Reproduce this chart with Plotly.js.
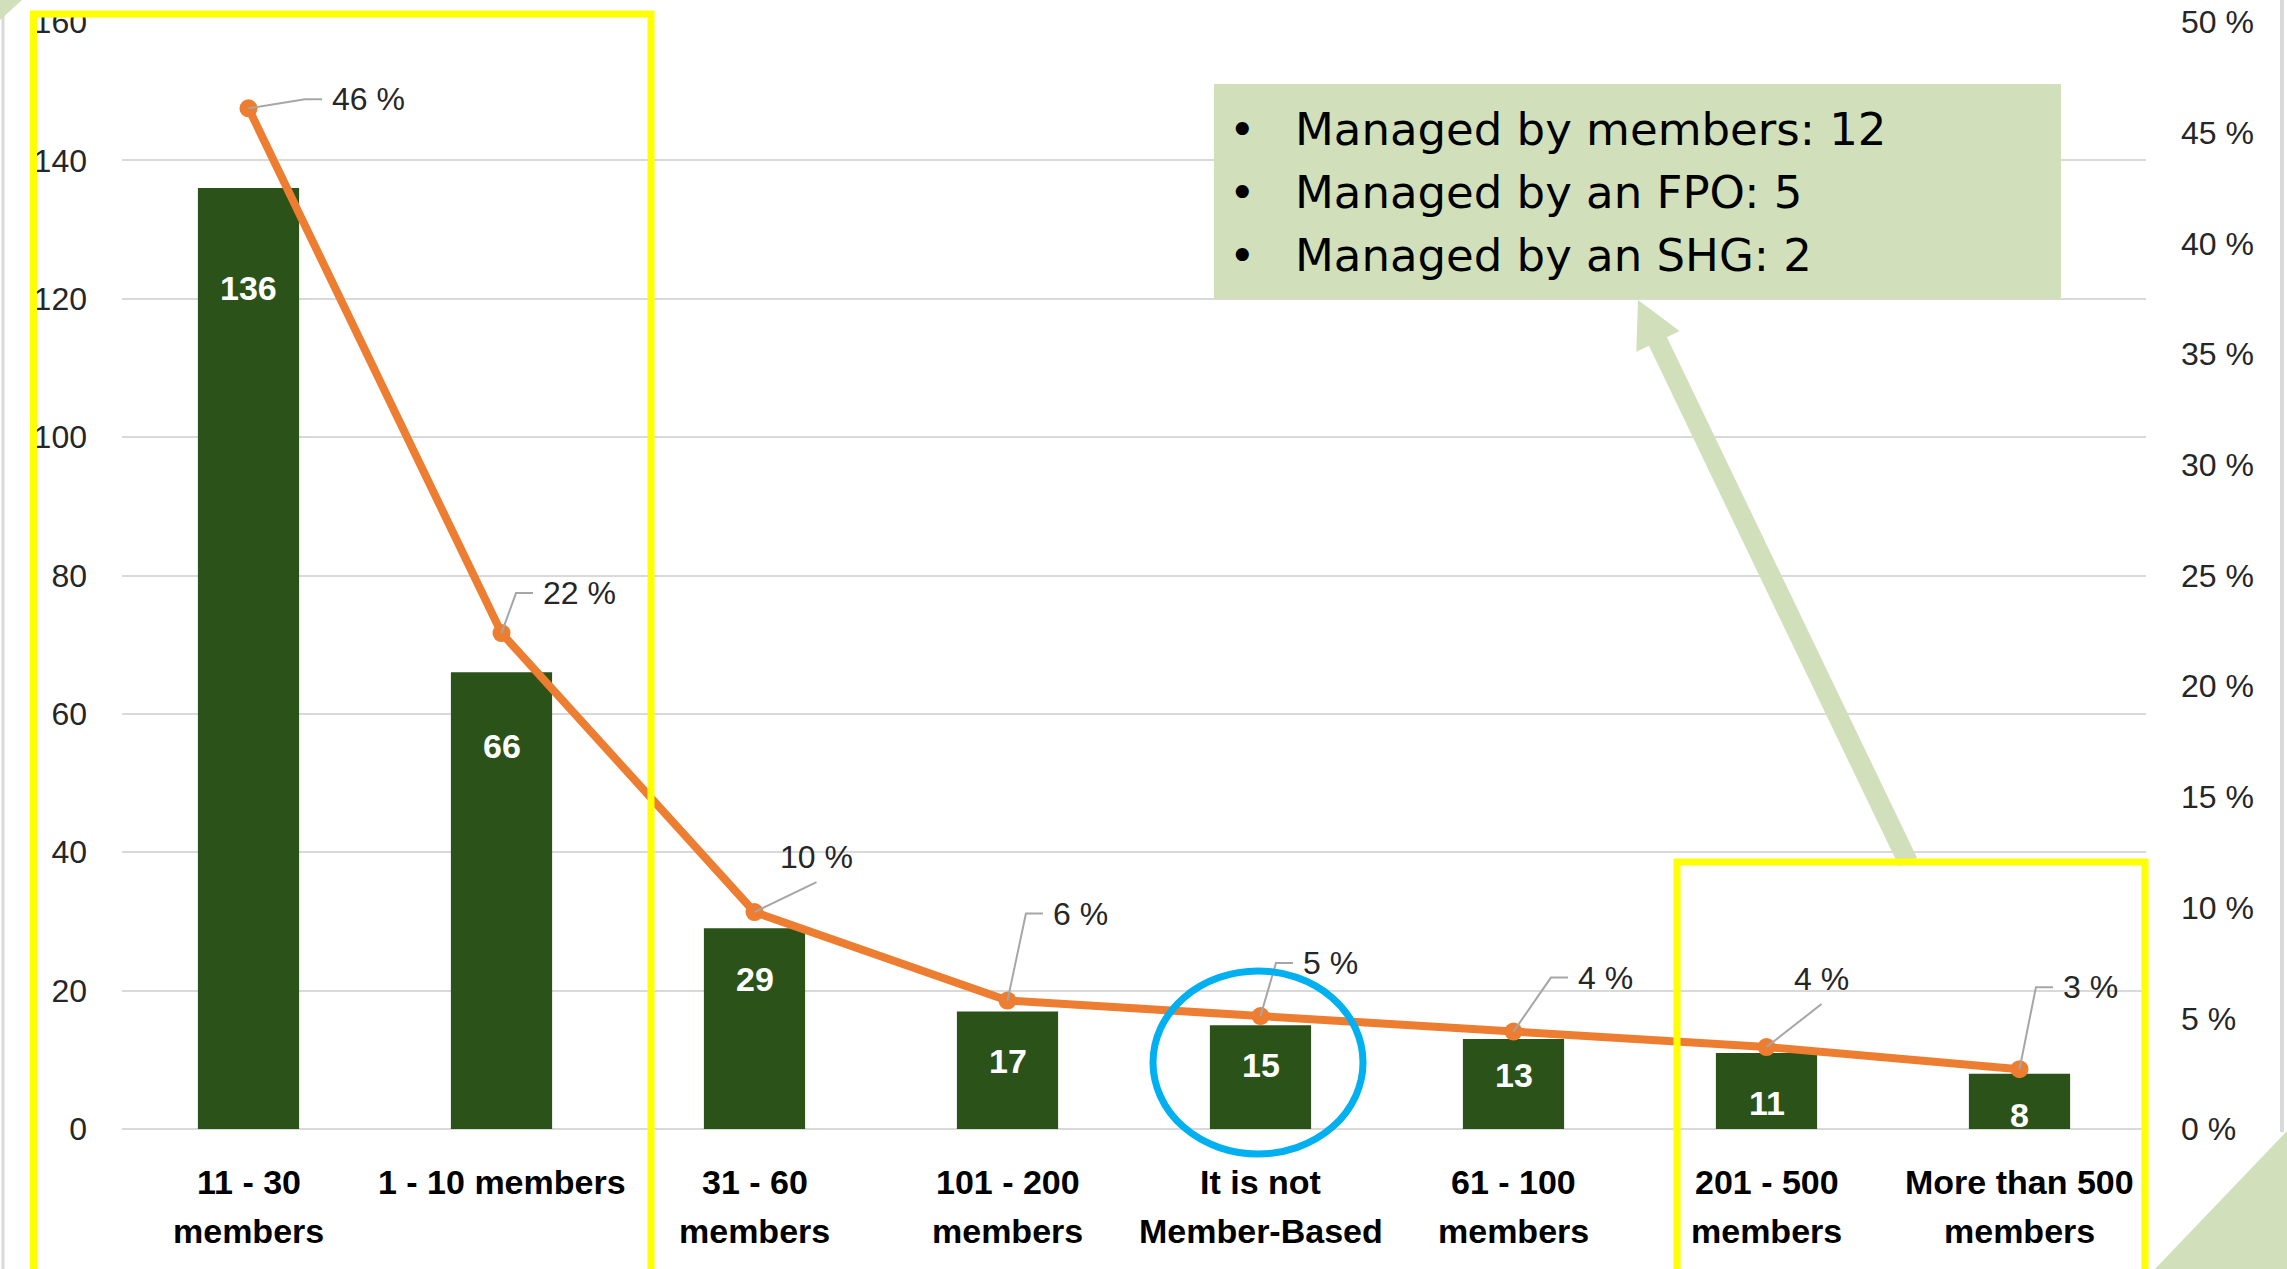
<!DOCTYPE html>
<html><head><meta charset="utf-8">
<script src="https://cdn.plot.ly/plotly-3.0.1.min.js"></script>
<style>html,body{margin:0;padding:0;background:#fff;overflow:hidden}#chart{width:2287px;height:1269px;}</style>
</head><body><div id="chart"></div>
<script>
// ---- data ----
const categories = ['11 - 30 members','1 - 10 members','31 - 60 members','101 - 200 members','It is not Member-Based','61 - 100 members','201 - 500 members','More than 500 members'];
const tickLabels = ['11 - 30<br>members','1 - 10 members','31 - 60<br>members','101 - 200<br>members','It is not<br>Member-Based','61 - 100<br>members','201 - 500<br>members','More than 500<br>members'];
const counts = [136, 66, 29, 17, 15, 13, 11, 8];
const shares = [46.1, 22.4, 9.8, 5.8, 5.1, 4.4, 3.7, 2.7];
const shareLabels = ['46 %','22 %','10 %','6 %','5 %','4 %','4 %','3 %'];
const leftTicks = [0, 20, 40, 60, 80, 100, 120, 140, 160];
const rightTicks = [0, 5, 10, 15, 20, 25, 30, 35, 40, 45, 50];
const rightTickLabels = ['0 %','5 %','10 %','15 %','20 %','25 %','30 %','35 %','40 %','45 %','50 %'];
const calloutLines = ['Managed by members: 12', 'Managed by an FPO: 5', 'Managed by an SHG: 2'];

// ---- layout / style ----
const W = 2287, H = 1269, L = 122, R = 2146, T = 22, B = 1129;
const PW = R - L, PH = B - T;
const px = x => (x - L) / PW;
const py = y => (B - y) / PH;
const barLabelDrop = [100, 74, 51, 50, 40, 36, 50, 41];
const pctLabelOffset = [[120,-9],[78,-40],[62,-55],[73,-87],[70,-53],[92,-54],[55,-68],[71,-82]];
const leaderBelow = [false, false, true, false, false, false, true, false];
const catLineY = [1182, 1231];
const GREEN_LIGHT = '#D1E0BB';
const PCT_FONT = 32;

const traces = [
  {type:'bar', x:categories, y:counts, marker:{color:'#2A5219'}, hoverinfo:'skip', showlegend:false},
  {type:'scatter', mode:'lines+markers', x:categories, y:shares, yaxis:'y2',
   line:{color:'#ED7D31', width:8}, marker:{color:'#ED7D31', size:18}, cliponaxis:false, hoverinfo:'skip', showlegend:false}
];

const annotations = [];
const shapes = [];
counts.forEach((v,i)=>{
  annotations.push({x:categories[i], y:v, xref:'x', yref:'y', text:String(v), showarrow:false,
    yanchor:'middle', yshift:-barLabelDrop[i],
    font:{family:'Liberation Sans', size:34, color:'#FFFFFF', weight:'bold'}});
});
shares.forEach((v,i)=>{
  const ax = pctLabelOffset[i][0], ay = pctLabelOffset[i][1];
  annotations.push({x:categories[i], y:v, xref:'x', yref:'y2', text:shareLabels[i], showarrow:false,
    xshift:ax, yshift:-ay, xanchor:'center', yanchor:'middle',
    font:{family:'Liberation Sans', size:PCT_FONT, color:'#262626'}});
  // Excel-style leader line (pixel offsets relative to the data point; y up)
  const digits = shareLabels[i].replace(/[^0-9]/g,'').length;
  const halfW = 0.5 * (digits*0.556 + 0.278 + 0.889) * PCT_FONT;
  let path;
  if (leaderBelow[i]) {
    path = `M0,0 L${ax},${-ay-25}`;
  } else {
    const left = ax - halfW;
    path = `M0,0 L${left-27},${-ay} L${left-10},${-ay}`;
  }
  shapes.push({type:'path', xref:'x', yref:'y2', xsizemode:'pixel', ysizemode:'pixel',
    xanchor:categories[i], yanchor:v, path:path, line:{color:'#A6A6A6', width:2}, fillcolor:'rgba(0,0,0,0)', layer:'above'});
});
// category labels (two lines, Excel-like spacing)
tickLabels.forEach((lab,i)=>{
  lab.split('<br>').forEach((part,j)=>{
    annotations.push({x:categories[i], xref:'x', yref:'paper', y:py(catLineY[j]), text:part, showarrow:false,
      xanchor:'center', yanchor:'middle',
      font:{family:'Liberation Sans', size:34, color:'#000000', weight:'bold'}});
  });
});
const lineY = [129, 192, 255];
calloutLines.forEach((t,i)=>{
  annotations.push({xref:'paper', yref:'paper', x:px(1242), y:py(lineY[i]), text:'•', showarrow:false,
    xanchor:'center', yanchor:'middle', font:{family:'DejaVu Sans', size:45, color:'#000'}});
  annotations.push({xref:'paper', yref:'paper', x:px(1293), y:py(lineY[i]), text:t, showarrow:false,
    xanchor:'left', yanchor:'middle', font:{family:'DejaVu Sans', size:45, color:'#000'}});
});

// arrow polygon from tail to tip
function arrowPath(tail, tip, shaftHalf, headLen, headHalf){
  const dx = tip[0]-tail[0], dy = tip[1]-tail[1], len = Math.hypot(dx,dy);
  const ux = dx/len, uy = dy/len, nx = -uy, ny = ux;
  const bx = tip[0]-ux*headLen, by = tip[1]-uy*headLen;
  const pts = [tip, [bx+nx*headHalf, by+ny*headHalf], [bx+nx*shaftHalf, by+ny*shaftHalf],
    [tail[0]+nx*shaftHalf, tail[1]+ny*shaftHalf], [tail[0]-nx*shaftHalf, tail[1]-ny*shaftHalf],
    [bx-nx*shaftHalf, by-ny*shaftHalf], [bx-nx*headHalf, by-ny*headHalf]];
  return 'M' + pts.map(p=>px(p[0]).toFixed(5)+','+py(p[1]).toFixed(5)).join(' L') + ' Z';
}
function polyPath(pts){ return 'M' + pts.map(p=>px(p[0]).toFixed(5)+','+py(p[1]).toFixed(5)).join(' L') + ' Z'; }

shapes.push(
  {type:'rect', xref:'paper', yref:'paper', x0:px(1214), x1:px(2061), y0:py(84), y1:py(299), fillcolor:GREEN_LIGHT, line:{width:0}, layer:'above'},
  {type:'path', xref:'paper', yref:'paper', path:arrowPath([1908,862],[1638,300],10,46,24), fillcolor:GREEN_LIGHT, line:{width:0}, layer:'above'},
  {type:'rect', xref:'paper', yref:'paper', x0:px(33.5), x1:px(651), y0:py(14), y1:py(1300), line:{color:'#FFFF00', width:7}, fillcolor:'rgba(0,0,0,0)', layer:'above'},
  {type:'rect', xref:'paper', yref:'paper', x0:px(1677), x1:px(2145), y0:py(862), y1:py(1300), line:{color:'#FFFF00', width:7}, fillcolor:'rgba(0,0,0,0)', layer:'above'},
  {type:'circle', xref:'paper', yref:'paper', x0:px(1153), x1:px(1363), y0:py(971), y1:py(1154), line:{color:'#00B0F0', width:7}, fillcolor:'rgba(0,0,0,0)', layer:'above'},
  {type:'line', xref:'paper', yref:'paper', x0:px(3), x1:px(3), y0:py(0), y1:py(1269), line:{color:'#D9D9D9', width:3}, layer:'above'},
  {type:'line', xref:'paper', yref:'paper', x0:px(2282), x1:px(2282), y0:py(0), y1:py(1132), line:{color:'#D9D9D9', width:4}, layer:'above'},
  {type:'path', xref:'paper', yref:'paper', path:polyPath([[0,0],[22,0],[0,20]]), fillcolor:GREEN_LIGHT, line:{width:0}, layer:'above'},
  {type:'path', xref:'paper', yref:'paper', path:polyPath([[2155,1269],[2287,1131],[2287,1269]]), fillcolor:GREEN_LIGHT, line:{width:0}, layer:'above'}
);

const layout = {
  width:W, height:H, margin:{l:L, r:W-R, t:T, b:H-B, pad:0},
  paper_bgcolor:'#FFFFFF', plot_bgcolor:'#FFFFFF',
  font:{family:'Liberation Sans', color:'#262626'},
  bargap:0.6, showlegend:false,
  xaxis:{type:'category', categoryarray:categories, showticklabels:false, showgrid:false, zeroline:false, showline:false,
    ticks:'', automargin:false},
  yaxis:{range:[0,160], tickvals:leftTicks, showgrid:true, gridcolor:'#D9D9D9', gridwidth:2,
    zeroline:true, zerolinecolor:'#D9D9D9', zerolinewidth:2, showline:false, ticks:'', ticklabelstandoff:34, automargin:false,
    tickfont:{family:'Liberation Sans', size:32, color:'#262626'}},
  yaxis2:{range:[0,50], tickvals:rightTicks, ticktext:rightTickLabels, overlaying:'y', side:'right', showgrid:false, zeroline:false,
    showline:false, ticks:'', ticklabelstandoff:34, automargin:false,
    tickfont:{family:'Liberation Sans', size:32, color:'#262626'}},
  annotations:annotations, shapes:shapes
};

Plotly.newPlot('chart', traces, layout, {displayModeBar:false, staticPlot:true});
</script>
</body></html>
